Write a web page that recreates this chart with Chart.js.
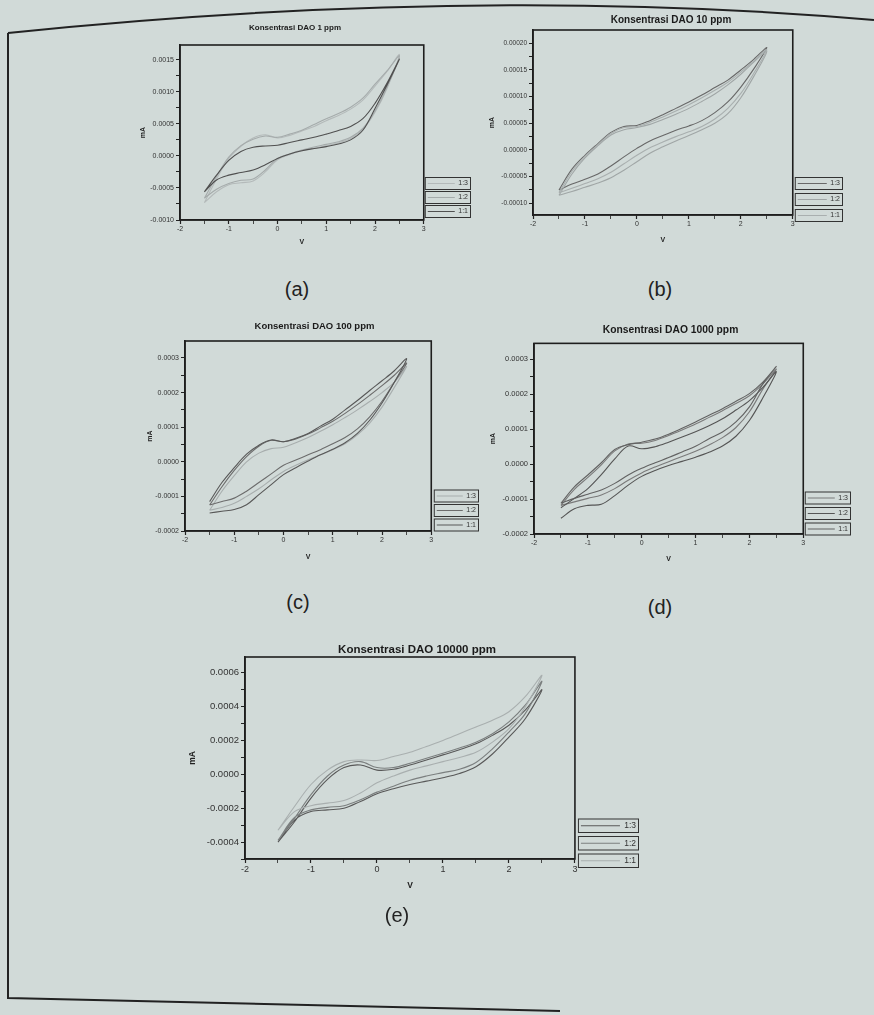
<!DOCTYPE html>
<html>
<head>
<meta charset="utf-8">
<script src="https://cdn.jsdelivr.net/npm/chart.js@4.4.0/dist/chart.umd.min.js"></script>
<style>
  body { margin: 0; width: 874px; height: 1015px; overflow: hidden; position: relative;
         background: #d1dad8; font-family: "Liberation Sans", Arial, sans-serif; }
  canvas { position: absolute; }
  .cap { position: absolute; font-size: 20px; line-height: 1; color: #222; transform: translate(-50%, -50%); }
  svg { position: absolute; left: 0; top: 0; }
</style>
</head>
<body>
<svg width="874" height="1015">
  <path d="M8 33 Q 470 -15 874 20" fill="none" stroke="#222" stroke-width="2"/>
  <path d="M8 33 L8 998 L560 1011" fill="none" stroke="#222" stroke-width="2"/>
</svg>

<canvas id="chartA" style="left:109px;top:0px" width="372" height="250"></canvas>
<canvas id="chartB" style="left:488px;top:0px" width="366" height="250"></canvas>
<canvas id="chartC" style="left:141px;top:310px" width="347" height="255"></canvas>
<canvas id="chartD" style="left:479px;top:310px" width="383" height="260"></canvas>
<canvas id="chartE" style="left:185px;top:625px" width="464" height="280"></canvas>

<div class="cap" style="left:297px;top:289px">(a)</div>
<div class="cap" style="left:660px;top:289px">(b)</div>
<div class="cap" style="left:298px;top:602px">(c)</div>
<div class="cap" style="left:660px;top:607px">(d)</div>
<div class="cap" style="left:397px;top:915px">(e)</div>

<script>
// potential (V) on both sweeps, current in units of 1e-4 mA
var volts = [-1.5, -1.25, -1, -0.75, -0.5, -0.25, 0, 0.25, 0.5, 0.75, 1, 1.25, 1.5, 1.75, 2, 2.25, 2.5];
var ratioLabels = ['1:1', '1:2', '1:3'];

var xTickValues = [-2, -1.5, -1, -0.5, 0, 0.5, 1, 1.5, 2, 2.5, 3];
var xTickLabels = ['-2', '', '-1', '', '0', '', '1', '', '2', '', '3'];

// (a) 1 ppm
var a11Up = [-5.6, -3.0, -0.7, 0.7, 1.35, 1.55, 1.65, 2.1, 2.5, 2.9, 3.4, 3.95, 4.6, 5.8, 8.2, 11.4, 15.1];
var a11Down = [-5.6, -3.75, -3.0, -2.6, -2.2, -1.4, -0.4, 0.3, 0.8, 1.15, 1.45, 1.85, 2.5, 4.0, 7.4, 11.1, 15.1];
var a12Up = [-6.6, -3.2, -0.2, 1.6, 2.6, 3.1, 2.9, 3.4, 4.0, 4.9, 5.8, 6.6, 7.6, 9.0, 11.2, 13.3, 15.6];
var a12Down = [-6.6, -5.2, -4.3, -3.8, -3.6, -2.2, -0.4, 0.3, 0.9, 1.4, 1.8, 2.2, 2.9, 4.3, 7.0, 10.8, 15.6];
var a13Up = [-7.3, -3.6, -0.4, 1.5, 2.8, 3.3, 2.8, 3.2, 3.9, 4.6, 5.5, 6.3, 7.3, 8.7, 10.9, 13.2, 15.8];
var a13Down = [-7.3, -5.6, -4.5, -4.2, -3.9, -2.5, -0.6, 0.2, 0.8, 1.2, 1.6, 2.0, 2.7, 4.1, 6.8, 10.6, 15.8];
var aYTicks = [-10, -7.5, -5, -2.5, 0, 2.5, 5, 7.5, 10, 12.5, 15];
var aYLabels = ['-0.0010', '', '-0.0005', '', '0.0000', '', '0.0005', '', '0.0010', '', '0.0015'];

// (b) 10 ppm
var b11Up = [-0.80, -0.40, -0.12, 0.10, 0.31, 0.42, 0.44, 0.52, 0.62, 0.73, 0.85, 0.98, 1.12, 1.27, 1.46, 1.67, 1.88];
var b11Down = [-0.80, -0.72, -0.63, -0.54, -0.42, -0.26, -0.10, 0.04, 0.15, 0.25, 0.34, 0.44, 0.58, 0.78, 1.06, 1.44, 1.88];
var b12Up = [-0.85, -0.45, -0.15, 0.08, 0.28, 0.38, 0.42, 0.48, 0.57, 0.67, 0.78, 0.91, 1.05, 1.22, 1.42, 1.65, 1.85];
var b12Down = [-0.85, -0.78, -0.70, -0.62, -0.52, -0.38, -0.22, -0.06, 0.06, 0.17, 0.27, 0.38, 0.50, 0.68, 0.98, 1.38, 1.85];
var b13Up = [-0.75, -0.36, -0.10, 0.12, 0.33, 0.44, 0.46, 0.55, 0.66, 0.78, 0.90, 1.03, 1.17, 1.31, 1.50, 1.70, 1.92];
var b13Down = [-0.75, -0.64, -0.55, -0.45, -0.30, -0.13, 0.03, 0.17, 0.27, 0.37, 0.45, 0.55, 0.70, 0.90, 1.18, 1.52, 1.92];
var bYTicks = [-1, -0.75, -0.5, -0.25, 0, 0.25, 0.5, 0.75, 1, 1.25, 1.5, 1.75, 2];
var bYLabels = ['-0.00010', '', '-0.00005', '', '0.00000', '', '0.00005', '', '0.00010', '', '0.00015', '', '0.00020'];

// (c) 100 ppm
var c11Up = [-1.15, -0.6, -0.17, 0.22, 0.48, 0.63, 0.58, 0.68, 0.82, 1.03, 1.23, 1.5, 1.77, 2.06, 2.34, 2.63, 2.98];
var c11Down = [-1.48, -1.43, -1.38, -1.24, -0.95, -0.66, -0.37, -0.17, 0.02, 0.2, 0.36, 0.55, 0.82, 1.2, 1.7, 2.3, 2.98];
var c12Up = [-1.25, -0.72, -0.25, 0.15, 0.45, 0.62, 0.58, 0.66, 0.8, 0.98, 1.17, 1.4, 1.65, 1.92, 2.2, 2.5, 2.85];
var c12Down = [-1.25, -1.15, -1.05, -0.85, -0.6, -0.35, -0.1, 0.05, 0.2, 0.35, 0.52, 0.7, 0.95, 1.3, 1.75, 2.3, 2.85];
var c13Up = [-1.4, -0.85, -0.4, 0.0, 0.25, 0.38, 0.42, 0.55, 0.7, 0.88, 1.07, 1.28, 1.5, 1.74, 2.0, 2.3, 2.75];
var c13Down = [-1.4, -1.32, -1.2, -1.0, -0.78, -0.52, -0.28, -0.1, 0.06, 0.2, 0.35, 0.52, 0.78, 1.12, 1.58, 2.15, 2.75];
var cYTicks = [-2, -1.5, -1, -0.5, 0, 0.5, 1, 1.5, 2, 2.5, 3];
var cYLabels = ['-0.0002', '', '-0.0001', '', '0.0000', '', '0.0001', '', '0.0002', '', '0.0003'];

// (d) 1000 ppm
var d11Up = [-1.12, -0.65, -0.31, 0.04, 0.42, 0.56, 0.63, 0.72, 0.86, 1.03, 1.21, 1.40, 1.59, 1.80, 2.02, 2.35, 2.8];
var d11Down = [-1.12, -0.98, -0.86, -0.74, -0.55, -0.31, -0.12, 0.04, 0.19, 0.35, 0.51, 0.73, 0.92, 1.21, 1.64, 2.3, 2.8];
var d12Up = [-1.25, -0.98, -0.7, -0.3, 0.15, 0.52, 0.44, 0.5, 0.63, 0.78, 0.93, 1.1, 1.3, 1.55, 1.82, 2.2, 2.65];
var d12Down = [-1.55, -1.28, -1.18, -1.15, -0.9, -0.6, -0.35, -0.18, -0.04, 0.08, 0.2, 0.34, 0.52, 0.8, 1.25, 1.9, 2.65];
var d13Up = [-1.18, -0.72, -0.38, -0.02, 0.38, 0.58, 0.6, 0.68, 0.82, 0.98, 1.15, 1.34, 1.53, 1.74, 1.96, 2.3, 2.72];
var d13Down = [-1.18, -1.08, -0.98, -0.88, -0.7, -0.46, -0.25, -0.08, 0.07, 0.22, 0.37, 0.55, 0.76, 1.05, 1.5, 2.15, 2.72];
var dYTicks = cYTicks;
var dYLabels = cYLabels;

// (e) 10000 ppm
var e11Up = [-3.3, -1.9, -0.6, 0.25, 0.75, 0.85, 0.82, 1.05, 1.3, 1.65, 2.0, 2.4, 2.8, 3.2, 3.7, 4.6, 5.85];
var e11Down = [-3.3, -2.2, -1.85, -1.7, -1.55, -1.1, -0.5, -0.1, 0.25, 0.5, 0.75, 1.0, 1.3, 1.9, 2.7, 4.0, 5.85];
var e12Up = [-3.9, -2.6, -1.2, -0.1, 0.55, 0.75, 0.4, 0.4, 0.65, 0.95, 1.25, 1.55, 1.9, 2.4, 3.1, 4.1, 5.5];
var e12Down = [-3.9, -2.55, -2.1, -1.95, -1.85, -1.5, -1.05, -0.7, -0.35, -0.1, 0.1, 0.3, 0.7, 1.5, 2.5, 3.6, 5.5];
var e13Up = [-4.0, -2.8, -1.4, -0.3, 0.4, 0.55, 0.25, 0.3, 0.55, 0.85, 1.15, 1.45, 1.8, 2.3, 2.9, 3.8, 5.0];
var e13Down = [-4.0, -2.7, -2.2, -2.1, -2.0, -1.6, -1.15, -0.85, -0.6, -0.4, -0.2, 0.05, 0.45, 1.2, 2.2, 3.3, 5.0];
var eYTicks = [-5, -4, -3, -2, -1, 0, 1, 2, 3, 4, 5, 6];
var eYLabels = ['', '-0.0004', '', '-0.0002', '', '0.0000', '', '0.0002', '', '0.0004', '', '0.0006'];

Chart.defaults.font.family = '"Liberation Sans", Arial, sans-serif';
Chart.defaults.color = '#333';

// forward sweep then the return sweep back to -1.5 V
function loopPoints(up, down) {
    var pts = volts.map(function (v, i) { return { x: v, y: up[i] }; });
    var last = volts.length - 1;
    var start = down[last] === up[last] ? last - 1 : last;
    for (var i = start; i >= 0; i--) {
        pts.push({ x: volts[i], y: down[i] });
    }
    return pts;
}

var framePlugin = {
    id: 'frame',
    afterDraw: function (chart) {
        var ctx = chart.ctx, a = chart.chartArea;
        ctx.save();
        ctx.strokeStyle = '#1e1e1e';
        ctx.lineWidth = 1.6;
        ctx.strokeRect(a.left, a.top, a.right - a.left, a.bottom - a.top);
        // boxed legend entries like the original plots
        var boxes = chart.legend && chart.legend.legendHitBoxes;
        if (boxes) {
            ctx.lineWidth = 1;
            ctx.strokeStyle = '#333';
            boxes.forEach(function (h) {
                ctx.strokeRect(h.left - 2.5, h.top - 2.5, h.width + 5, h.height + 5);
            });
        }
        ctx.restore();
    }
};

// nudges the legend block after layout so it sits where the original put it
var legendShiftPlugin = {
    id: 'legendShift',
    afterLayout: function (chart, args, opts) {
        var lg = chart.legend;
        if (!lg) return;
        lg.left += opts.dx; lg.right += opts.dx;
        lg.top += opts.dy; lg.bottom += opts.dy;
    }
};

function makeChart(c) {
    var datasets = c.series.map(function (s, k) {
        return {
            label: ratioLabels[k],
            data: loopPoints(s[0], s[1]),
            showLine: true,
            borderColor: c.colors[k],
            borderWidth: 1.1,
            pointRadius: 0,
            tension: 0.35,
            fill: false
        };
    });
    var tickW = function (ctx) { return ctx.tick && ctx.index % 2 === 1 ? 0.8 : 1.2; };
    new Chart(document.getElementById(c.id), {
        type: 'scatter',
        data: { datasets: datasets },
        options: {
            responsive: false,
            animation: false,
            devicePixelRatio: 1,
            layout: { padding: c.pad },
            plugins: {
                tooltip: { enabled: false },
                legendShift: { dx: c.legShift[0], dy: c.legShift[1] },
                title: {
                    display: true, text: c.title, color: '#1a1a1a',
                    font: { size: c.titleSize, weight: 'bold' },
                    padding: { top: 0, bottom: c.titleGap }
                },
                legend: {
                    position: 'right', align: 'end', fullSize: false, reverse: true,
                    labels: {
                        usePointStyle: true, pointStyle: 'line', pointStyleWidth: c.legLine,
                        padding: c.legPad, color: '#333', font: { size: c.legFont }
                    }
                }
            },
            scales: {
                x: {
                    type: 'linear', min: -2, max: 3,
                    afterBuildTicks: function (ax) { ax.ticks = xTickValues.map(function (v) { return { value: v }; }); },
                    afterFit: function (sc) { sc.height = c.xH; },
                    ticks: {
                        autoSkip: false, maxRotation: 0, padding: 1, color: '#333',
                        font: { size: c.tickFont },
                        callback: function (v, i) { return xTickLabels[i]; }
                    },
                    grid: { drawOnChartArea: false, tickLength: 4, tickColor: '#222', tickWidth: tickW },
                    border: { color: '#1e1e1e', width: 1.6 },
                    title: { display: true, text: 'V', color: '#222', font: { size: c.axisFont, weight: 'bold' }, padding: { top: 2, bottom: 2 } }
                },
                y: {
                    type: 'linear', min: c.yMin, max: c.yMax,
                    afterBuildTicks: function (ax) { ax.ticks = c.yTicks.map(function (v) { return { value: v }; }); },
                    afterFit: function (sc) { sc.width = c.yW; },
                    ticks: {
                        autoSkip: false, padding: 2, color: '#333',
                        font: { size: c.yTickFont },
                        callback: function (v, i) { return c.yLabels[i]; }
                    },
                    grid: { drawOnChartArea: false, tickLength: 4, tickColor: '#222', tickWidth: 1 },
                    border: { color: '#1e1e1e', width: 1.6 },
                    title: { display: true, text: 'mA', color: '#222', font: { size: c.axisFont, weight: 'bold' }, padding: { top: c.mAPad, bottom: 0 } }
                }
            }
        },
        plugins: [framePlugin, legendShiftPlugin]
    });
}

makeChart({
    id: 'chartA', title: 'Konsentrasi DAO 1 ppm', titleSize: 8, titleGap: 12.4,
    pad: { top: 23, left: 0, right: 0, bottom: 2 }, yW: 71, xH: 28, mAPad: 29.8,
    yMin: -10, yMax: 17.3, yTicks: aYTicks, yLabels: aYLabels,
    series: [[a11Up, a11Down], [a12Up, a12Down], [a13Up, a13Down]],
    colors: ['#505050', '#a5abab', '#b4baba'],
    tickFont: 7, yTickFont: 7, axisFont: 7, legFont: 7, legLine: 27, legPad: 7, legShift: [-3, 2]
});

makeChart({
    id: 'chartB', title: 'Konsentrasi DAO 10 ppm', titleSize: 10, titleGap: 4,
    pad: { top: 14, left: 0, right: 0, bottom: 4 }, yW: 45, xH: 31, mAPad: 0,
    yMin: -1.22, yMax: 2.25, yTicks: bYTicks, yLabels: bYLabels,
    series: [[b11Up, b11Down], [b12Up, b12Down], [b13Up, b13Down]],
    colors: ['#a9afaf', '#a0a6a6', '#686868'],
    tickFont: 7, yTickFont: 6.5, axisFont: 7, legFont: 7, legLine: 29, legPad: 9, legShift: [-4, 13]
});

makeChart({
    id: 'chartC', title: 'Konsentrasi DAO 100 ppm', titleSize: 9.5, titleGap: 8.6,
    pad: { top: 11, left: 0, right: 0, bottom: 2 }, yW: 44, xH: 32, mAPad: 4.8,
    yMin: -2, yMax: 3.49, yTicks: cYTicks, yLabels: cYLabels,
    series: [[c11Up, c11Down], [c12Up, c12Down], [c13Up, c13Down]],
    colors: ['#585858', '#6c6c6c', '#a8aeae'],
    tickFont: 7, yTickFont: 7, axisFont: 7, legFont: 7, legLine: 26, legPad: 7.5, legShift: [-2, 5]
});

makeChart({
    id: 'chartD', title: 'Konsentrasi DAO 1000 ppm', titleSize: 10.3, titleGap: 7,
    pad: { top: 14, left: 0, right: 0, bottom: 5 }, yW: 55, xH: 31, mAPad: 9.8,
    yMin: -2, yMax: 3.46, yTicks: dYTicks, yLabels: dYLabels,
    series: [[d11Up, d11Down], [d12Up, d12Down], [d13Up, d13Down]],
    colors: ['#626262', '#555555', '#7a7a7a'],
    tickFont: 7, yTickFont: 7.5, axisFont: 7, legFont: 7, legLine: 27, legPad: 8.5, legShift: [-4, 7]
});

makeChart({
    id: 'chartE', title: 'Konsentrasi DAO 10000 ppm', titleSize: 11.5, titleGap: 0.2,
    pad: { top: 18, left: 0, right: 0, bottom: 12 }, yW: 60, xH: 34, mAPad: 2.9,
    yMin: -5, yMax: 6.93, yTicks: eYTicks, yLabels: eYLabels,
    series: [[e11Up, e11Down], [e12Up, e12Down], [e13Up, e13Down]],
    colors: ['#a9afaf', '#7b7f7f', '#585858'],
    tickFont: 9, yTickFont: 9.5, axisFont: 8.5, legFont: 8.5, legLine: 39, legPad: 9, legShift: [-3, 15]
});
</script>
</body>
</html>
